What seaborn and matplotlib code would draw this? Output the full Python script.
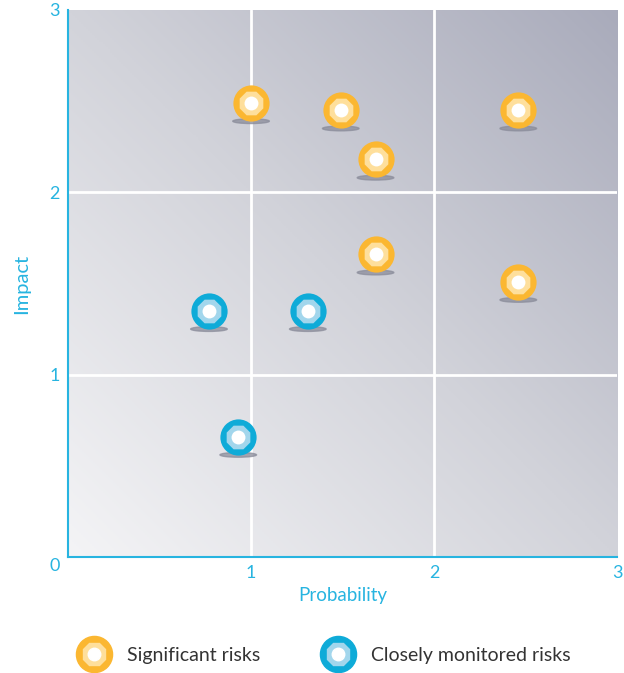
import numpy as np
import pandas as pd
import matplotlib
matplotlib.use("Agg")
import matplotlib.pyplot as plt
import seaborn as sns
from matplotlib.colors import LinearSegmentedColormap
from matplotlib.lines import Line2D
from matplotlib.patches import Ellipse
from matplotlib.legend_handler import HandlerTuple

# risk positions
sig_prob = [1.0, 1.49, 1.68, 2.46, 1.68, 2.46]
sig_impact = [2.49, 2.45, 2.18, 2.45, 1.66, 1.51]
mon_prob = [0.77, 1.31, 0.93]
mon_impact = [1.35, 1.35, 0.66]
ticks = [1, 2, 3]
series_names = ["Significant risks", "Closely monitored risks"]

df = pd.DataFrame({
    "Probability": sig_prob + mon_prob,
    "Impact": sig_impact + mon_impact,
    "Group": [series_names[0]] * len(sig_prob) + [series_names[1]] * len(mon_prob),
})

sns.set_style("white")
plt.rcParams["font.family"] = ["Lato", "DejaVu Sans"]

cyan = "#27b4e0"
colors = {
    series_names[0]: ("#fbb731", "#fedf9c"),
    series_names[1]: ("#0eabd8", "#a2d6ec"),
}

fig = plt.figure(figsize=(6.24, 6.73), dpi=100)
ax = fig.add_axes([0.109, 0.1724, 0.88, 0.8128])

# diagonal gradient background
gx, gy = np.meshgrid(np.linspace(0, 1, 300), np.linspace(0, 1, 300))
grad = (gx + gy) / 2
cmap = LinearSegmentedColormap.from_list("bg", ["#f4f4f6", "#d2d3da", "#a9abbb"])
ax.imshow(grad, cmap=cmap, extent=[0, 3, 0, 3], origin="lower", aspect="auto", zorder=0)

for v in [1, 2]:
    ax.axvline(v, color="white", lw=2, zorder=1)
    ax.axhline(v, color="white", lw=2, zorder=1)

# shadows under each marker
for px, py in zip(df["Probability"], df["Impact"]):
    ax.add_patch(Ellipse((px, py - 0.1), 0.2, 0.026, color="#8b8d9b", alpha=0.75, zorder=2))

for name, (outer, inner) in colors.items():
    sub = df[df["Group"] == name]
    sns.scatterplot(data=sub, x="Probability", y="Impact", ax=ax, color=outer,
                    s=680, marker="o", linewidth=0, zorder=3)
    sns.scatterplot(data=sub, x="Probability", y="Impact", ax=ax, color=inner,
                    s=340, marker="8", linewidth=0, zorder=4)
    sns.scatterplot(data=sub, x="Probability", y="Impact", ax=ax, color="white",
                    s=100, marker="o", linewidth=0, zorder=5)

ax.set_xlim(0, 3)
ax.set_ylim(0, 3)
ax.set_xticks(ticks)
ax.set_yticks(ticks)
ax.tick_params(colors=cyan, labelsize=13, length=0, pad=6)
ax.set_xlabel("Probability", color=cyan, fontsize=13.5, labelpad=4)
ax.set_ylabel("Impact", color=cyan, fontsize=14.5, labelpad=14)
ax.text(-0.045, -0.05, "0", color=cyan, fontsize=13, ha="right", va="center",
        transform=ax.transData, clip_on=False)
for side in ["top", "right"]:
    ax.spines[side].set_visible(False)
for side in ["left", "bottom"]:
    ax.spines[side].set_color(cyan)
    ax.spines[side].set_linewidth(1.5)

handles = []
for name, (outer, inner) in colors.items():
    handles.append((
        Line2D([], [], marker="o", color=outer, markersize=26, lw=0),
        Line2D([], [], marker="8", color=inner, markersize=17, lw=0),
        Line2D([], [], marker="o", color="white", markersize=9, lw=0),
    ))
fig.legend(handles, series_names, handler_map={tuple: HandlerTuple(ndivide=1)},
           loc="center", bbox_to_anchor=(0.52, 0.026), ncol=2, frameon=False,
           fontsize=14, labelcolor="#333333", handletextpad=0.9, columnspacing=3.2,
           handlelength=1.6)

fig.savefig("out.png", dpi=100)
